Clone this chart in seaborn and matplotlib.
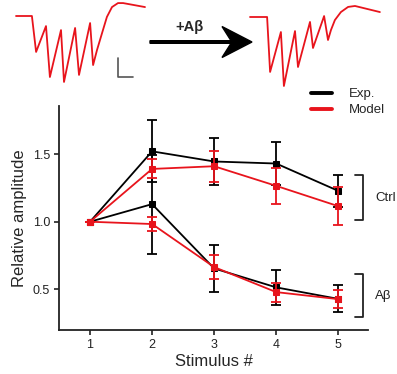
import numpy as np
import pandas as pd
import matplotlib
matplotlib.use("Agg")
import matplotlib.pyplot as plt
import seaborn as sns
from matplotlib.lines import Line2D

# Relative amplitude per stimulus (mean and error)
stimulus = [1, 2, 3, 4, 5]
exp_ctrl = [1.0, 1.52, 1.445, 1.43, 1.228]
exp_ctrl_err = [0.0, 0.23, 0.17, 0.16, 0.12]
model_ctrl = [1.0, 1.39, 1.41, 1.265, 1.115]
model_ctrl_err = [0.0, 0.07, 0.115, 0.135, 0.14]
exp_ab = [1.0, 1.13, 0.655, 0.515, 0.43]
exp_ab_err = [0.0, 0.365, 0.175, 0.13, 0.10]
model_ab = [1.0, 0.983, 0.665, 0.48, 0.428]
model_ab_err = [0.0, 0.05, 0.09, 0.07, 0.065]

# example current traces (ms, pA)
ctrl_t = [0, 53, 67, 100, 113, 150, 160, 197, 210, 247, 257, 270, 287, 303, 320, 340, 357, 430]
ctrl_i = [0, 0, -189, -53, -321, -74, -347, -63, -310, -37, -258, -179, -89, -5, 47, 68, 68, 47]
ab_t = [0, 57, 67, 103, 113, 150, 160, 200, 210, 247, 260, 270, 283, 303, 327, 350, 433]
ab_i = [0, 0, -289, -79, -363, -74, -263, -26, -163, 5, -121, -68, -16, 26, 53, 58, 26]
scalebar_ms = 50
scalebar_pA = 100

# bracket extents (relative amplitude)
ctrl_bracket = (1.011, 1.344)
ab_bracket = (0.293, 0.611)

sns.set_theme(style="ticks")
plt.rcParams["font.family"] = ["Liberation Sans", "DejaVu Sans"]

fig = plt.figure(figsize=(3.97, 3.74), dpi=100)
W, H = 397, 374

# --- main plot ---
ax = fig.add_axes([59 / W, 1 - 330 / H, (368 - 59) / W, (330 - 106) / H])

series = [
    (exp_ctrl, exp_ctrl_err, "black", "s"),
    (exp_ab, exp_ab_err, "black", "s"),
    (model_ctrl, model_ctrl_err, "#e8141c", "s"),
    (model_ab, model_ab_err, "#e8141c", "s"),
]
for vals, err, col, mk in series:
    df = pd.DataFrame({"stim": stimulus, "amp": vals})
    sns.lineplot(data=df, x="stim", y="amp", color=col, marker=mk, markersize=5,
                 markeredgecolor=col, linewidth=1.3, ax=ax, zorder=3)
    ax.errorbar(stimulus, vals, yerr=err, fmt="none", ecolor=col, elinewidth=1.3,
                capsize=3.5, capthick=1.3, zorder=3)

ax.set_xlim(0.5, 5.48)
ax.set_ylim(0.2, 1.855)
ax.set_xticks(stimulus)
ax.set_yticks([0.5, 1.0, 1.5])
ax.set_yticklabels(["0.5", "1.0", "1.5"])
ax.set_xlabel("Stimulus #", fontsize=12, labelpad=2)
ax.set_ylabel("Relative amplitude", fontsize=12, labelpad=4)
ax.tick_params(labelsize=9, length=3.5, width=1.2, color="#222222", labelcolor="#222222", pad=3)
sns.despine(ax=ax)
for s in ["left", "bottom"]:
    ax.spines[s].set_linewidth(1.3)
    ax.spines[s].set_color("#222222")

# brackets
for (lo, hi), label in [(ctrl_bracket, "Ctrl"), (ab_bracket, "Aβ")]:
    ax.plot([5.27, 5.40, 5.40, 5.27], [hi, hi, lo, lo], color="#222222", lw=1.3, clip_on=False)
    ax.text(5.60, (lo + hi) / 2, label, fontsize=9.5, va="center", ha="left", color="#222222")

handles = [Line2D([], [], color="black", lw=2.8), Line2D([], [], color="#e8141c", lw=2.8)]
fig.legend(handles, ["Exp.", "Model"], loc="upper left", bbox_to_anchor=(311 / W, 1 - 88 / H),
           frameon=False, fontsize=9.5, handlelength=1.6, handletextpad=1.3,
           labelspacing=0.3, borderpad=0, borderaxespad=0)

# --- traces ---
ms_px, pA_px = 10 / 3, 5.26
ax_l = fig.add_axes([10 / W, 1 - 90 / H, 140 / W, 90 / H])
ax_l.plot(ctrl_t, ctrl_i, color="#e8141c", lw=1.3)
ax_l.set_xlim(-6 * ms_px, 134 * ms_px)
ax_l.set_ylim(-74 * pA_px, 16 * pA_px)
sb_t, sb_i = 339, -321
ax_l.plot([sb_t, sb_t, sb_t + scalebar_ms], [sb_i + scalebar_pA, sb_i, sb_i], color="#555555", lw=1.2)
ax_l.axis("off")

ax_r = fig.add_axes([245 / W, 1 - 95 / H, 140 / W, 95 / H])
ax_r.plot(ab_t, ab_i, color="#e8141c", lw=1.3)
ax_r.set_xlim(-5 * ms_px, 135 * ms_px)
ax_r.set_ylim(-78 * pA_px, 17 * pA_px)
ax_r.axis("off")

# arrow and label
ov = fig.add_axes([0, 0, 1, 1])
ov.set_xlim(0, W)
ov.set_ylim(H, 0)
ov.axis("off")
ov.arrow(150, 42, 102, 0, width=2.6, head_width=31, head_length=30, overhang=0.3,
         length_includes_head=True, color="black")
ov.text(190, 27, "+Aβ", fontsize=10.5, fontweight="bold", ha="center", va="center")

fig.savefig("out.png", dpi=100)
